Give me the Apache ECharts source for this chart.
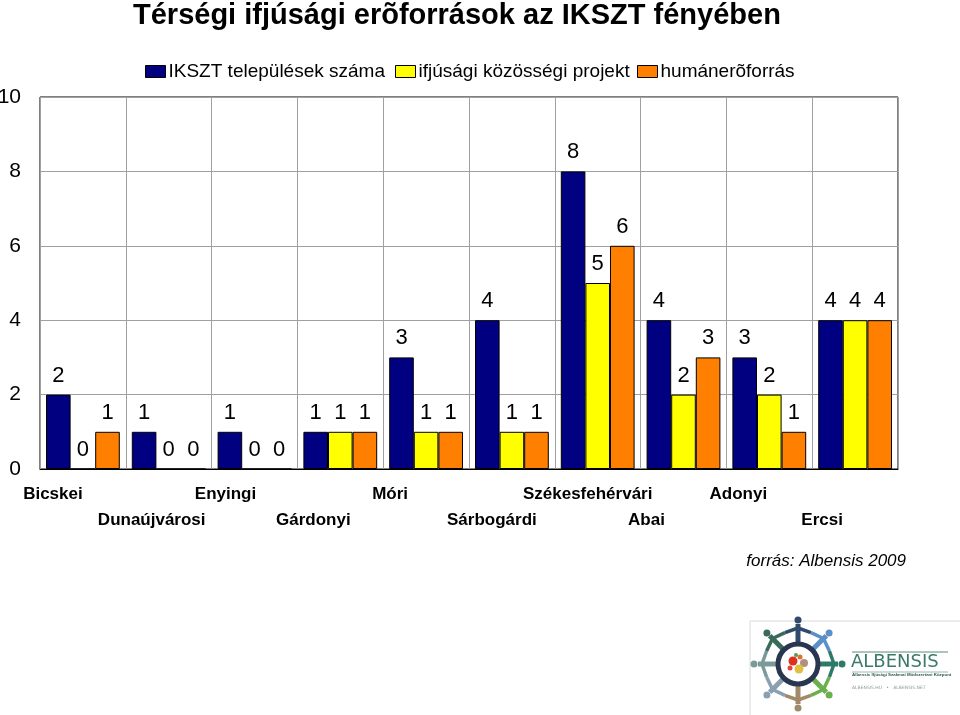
<!DOCTYPE html>
<html>
<head>
<meta charset="utf-8">
<script src="https://cdn.jsdelivr.net/npm/echarts@6/dist/echarts.min.js"></script>
<style>
html,body{margin:0;padding:0;background:#fff;}
#chart{width:960px;height:715px;}
</style>
</head>
<body>
<div id="chart"></div>
<script>
const categories = ['Bicskei','Dunaújvárosi','Enyingi','Gárdonyi','Móri','Sárbogárdi','Székesfehérvári','Abai','Adonyi','Ercsi'];
const seriesNames = ['IKSZT települések száma','ifjúsági közösségi projekt','humánerõforrás'];
const ikszt   = [2,1,1,1,3,4,8,4,3,4];
const projekt = [0,0,0,1,1,1,5,2,2,4];
const human   = [1,0,0,1,1,1,6,3,1,4];
const yTicks  = [0,2,4,6,8,10];

// layout-only: horizontal shift (px, leftwards) of each category label, as in the reference
const labelShift = [30,17,29,27,36,20,10,37,31,33];
const colors = ['#000080','#FFFF00','#FF8000'];
const FONT = 'Liberation Sans, Arial, sans-serif';

const chart = echarts.init(document.getElementById('chart'));

const rich = {};
labelShift.forEach((s,i)=>{
  rich['c'+i] = {fontFamily:FONT,fontSize:17,fontWeight:'bold',color:'#000',padding:[0,2*s,0,0],lineHeight:26};
});

const legendLefts = [145,395,637];
const legends = seriesNames.map((n,i)=>({
  data:[n], left:legendLefts[i], top:62, itemWidth:20, itemHeight:12, itemGap:0,
  icon:'rect', selectedMode:false, padding:0,
  textStyle:{fontFamily:FONT,fontSize:19,color:'#000',padding:[0,0,0,-2]},
  itemStyle:{borderColor:'#000',borderWidth:1}
}));

function mkSeries(name, data, color){
  return {
    name, type:'bar', data, barGap:'0%', barCategoryGap:'14%',
    itemStyle:{color, borderColor:'#000', borderWidth:1},
    label:{show:true, position:'top', distance:8, fontFamily:FONT, fontSize:22, color:'#000'},
    emphasis:{disabled:true}, animation:false
  };
}

// logo drawing
const lx = 798, ly = 664;
const figColors = ['#2f4a6a','#5b8fc9','#2e7a6a','#6ab04c','#a08a6a','#8aa0b0','#7a9a9a','#3a6a5a'];
const logo = [];
logo.push({type:'rect', shape:{x:750,y:621,width:212,height:96}, style:{fill:'#fff',stroke:'#d8d8d8',lineWidth:1}});
figColors.forEach((c,i)=>{
  const a = -Math.PI/2 + i*Math.PI/4;
  const a1 = a - Math.PI/8, a2 = a + Math.PI/8;
  logo.push({type:'line', shape:{x1:lx+22*Math.cos(a),y1:ly+22*Math.sin(a),x2:lx+40*Math.cos(a),y2:ly+40*Math.sin(a)}, style:{stroke:c,lineWidth:5}});
  logo.push({type:'line', shape:{x1:lx+36*Math.cos(a),y1:ly+36*Math.sin(a),x2:lx+34*Math.cos(a1),y2:ly+34*Math.sin(a1)}, style:{stroke:c,lineWidth:3.5}});
  logo.push({type:'line', shape:{x1:lx+36*Math.cos(a),y1:ly+36*Math.sin(a),x2:lx+34*Math.cos(a2),y2:ly+34*Math.sin(a2)}, style:{stroke:c,lineWidth:3.5}});
  logo.push({type:'circle', shape:{cx:lx+44*Math.cos(a),cy:ly+44*Math.sin(a),r:3.5}, style:{fill:c}});
});
logo.push({type:'circle', shape:{cx:lx,cy:ly,r:20}, style:{fill:'#fff',stroke:'#2a3550',lineWidth:5}});
[['#e03020',-5,-3,4.5],['#e07030',2,-7,2.5],['#b09080',6,-1,4],['#e0c040',1,5,4.5],['#e84040',-8,4,2.5],['#50a050',-2,-9,2]].forEach(d=>{
  logo.push({type:'circle', shape:{cx:lx+d[1],cy:ly+d[2],r:d[3]}, style:{fill:d[0]}});
});
logo.push({type:'line', shape:{x1:852,y1:652,x2:948,y2:652}, style:{stroke:'#5a8a7a',lineWidth:1}});
logo.push({type:'text', left:851, top:653, style:{text:'ALBENSIS', font:'18px DejaVu Sans, sans-serif', fill:'#3a7a6a'}});
logo.push({type:'line', shape:{x1:852,y1:672,x2:948,y2:672}, style:{stroke:'#5a8a7a',lineWidth:0.6}});
logo.push({type:'text', left:852, top:673, style:{text:'Albensis Ifjúsági Szakmai Módszertani Központ', font:'bold 4.4px Liberation Sans, sans-serif', fill:'#2e5a4a'}});
logo.push({type:'text', left:852, top:685, style:{text:'ALBENSIS.HU   •   ALBENSIS.NET', font:'4.5px DejaVu Sans, sans-serif', fill:'#8a9a9a'}});

const option = {
  backgroundColor:'#fff',
  animation:false,
  title:{text:'Térségi ifjúsági erõforrások az IKSZT fényében', left:133, top:1, padding:0,
    textStyle:{fontFamily:FONT,fontSize:29,fontWeight:'bold',color:'#000'}},
  legend: legends,
  grid:{left:40, right:62, top:97, bottom:246, show:true, borderColor:'#000', borderWidth:1, containLabel:false, outerBoundsMode:'none'},
  xAxis:{
    type:'category', data:categories,
    axisLine:{show:true, lineStyle:{color:'#000',width:1}},
    axisTick:{show:false},
    splitLine:{show:true, lineStyle:{color:'#a0a0a0',width:1}},
    axisLabel:{interval:0, margin:12,
      formatter:(v,i)=> (i%2===1 ? '\n' : '') + '{c'+i+'|'+v+'}',
      rich, lineHeight:26}
  },
  yAxis:{
    type:'value', min:yTicks[0], max:yTicks[yTicks.length-1], interval:2,
    axisLine:{show:false}, axisTick:{show:false},
    splitLine:{show:true, lineStyle:{color:'#a0a0a0',width:1}},
    axisLabel:{fontFamily:FONT, fontSize:21, color:'#000', margin:19}
  },
  series:[mkSeries(seriesNames[0],ikszt,colors[0]), mkSeries(seriesNames[1],projekt,colors[1]), mkSeries(seriesNames[2],human,colors[2])],
  graphic:[
    {type:'text', right:54, top:553, style:{text:'forrás: Albensis 2009', font:'italic 17px '+FONT, fill:'#000'}},
    ...logo
  ]
};
chart.setOption(option);
</script>
</body>
</html>
